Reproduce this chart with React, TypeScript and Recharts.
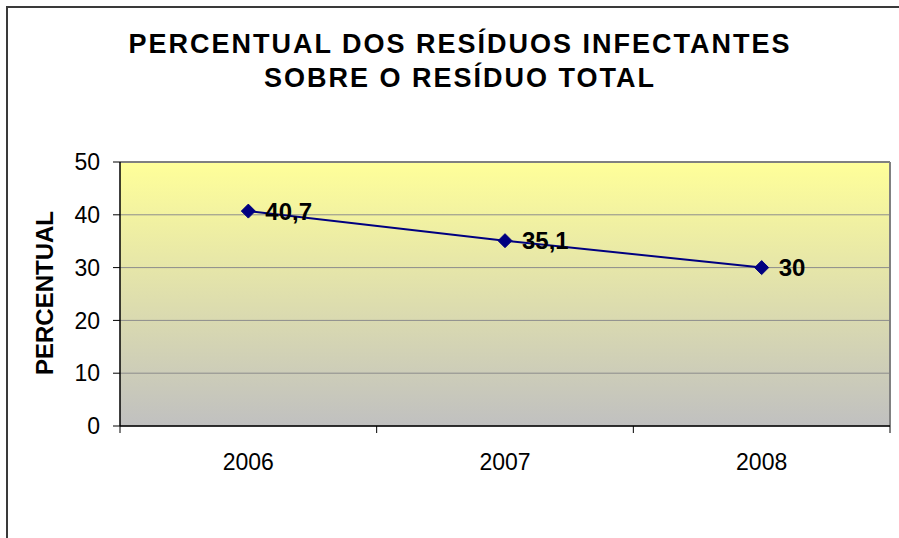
import { CartesianGrid, LabelList, Line, LineChart, ReferenceLine, XAxis, YAxis } from 'recharts';

const FONT = "Arial, 'Liberation Sans', sans-serif";

const years = ['2006', '2007', '2008'];
const percentual = [40.7, 35.1, 30];
const yTicks = [0, 10, 20, 30, 40, 50];
const titleLines = ['PERCENTUAL DOS RESÍDUOS INFECTANTES', 'SOBRE O RESÍDUO TOTAL'];

// x positions sit in the middle of each category band, boundaries get tick marks
const data = years.map((year, i) => ({ x: i + 0.5, year, value: percentual[i] }));
const xTicks = [0, 0.5, 1, 1.5, 2, 2.5, 3];

const XTick = (props: any) => {
  const { x, y, payload } = props;
  const v = payload.value as number;
  if (Number.isInteger(v)) {
    return <line x1={x} y1={y} x2={x} y2={y + 7} stroke="#000" strokeWidth={1} />;
  }
  const label = years[Math.floor(v)];
  return (
    <text x={x} y={y + 36} textAnchor="middle" dominantBaseline="central" fontSize={23} fontFamily={FONT} fill="#000">
      {label}
    </text>
  );
};

const Diamond = (props: any) => {
  const { cx, cy, index } = props;
  const s = 7;
  return (
    <polygon
      key={`d-${index}`}
      points={`${cx},${cy - s} ${cx + s},${cy} ${cx},${cy + s} ${cx - s},${cy}`}
      fill="#000080"
      stroke="#000080"
    />
  );
};

const ValueLabel = (props: any) => {
  const { x, y, value } = props;
  return (
    <text x={x + 17} y={y} dominantBaseline="central" fontSize={24} fontWeight="bold" fontFamily={FONT} fill="#000">
      {String(value).replace('.', ',')}
    </text>
  );
};

export default function App() {
  return (
    <div style={{ position: 'absolute', left: 0, top: 0, width: 899, height: 538, overflow: 'hidden', background: '#fff' }}>
      <div
        style={{
          position: 'absolute',
          left: 6,
          top: 6,
          width: 1000,
          height: 1000,
          border: '2px solid #3a3a3a',
        }}
      />
      <div
        style={{
          position: 'absolute',
          left: 0,
          top: 27,
          width: 920,
          textAlign: 'center',
          fontFamily: FONT,
          fontWeight: 'bold',
          fontSize: 27,
          letterSpacing: 2,
          lineHeight: '34px',
          color: '#000',
        }}
      >
        {titleLines.map((t) => (
          <div key={t}>{t}</div>
        ))}
      </div>
      <div style={{ position: 'absolute', left: 0, top: 0 }}>
        <LineChart width={899} height={538} data={data} margin={{ top: 162, right: 9, bottom: 72, left: 50 }}>
          <defs>
            <linearGradient id="plotBg" x1="0" y1="0" x2="0" y2="1">
              <stop offset="0%" stopColor="#FFFF99" />
              <stop offset="100%" stopColor="#C0C0C0" />
            </linearGradient>
          </defs>
          <CartesianGrid vertical={false} stroke="#8c8c8c" fill="url(#plotBg)" fillOpacity={1} />
          <XAxis
            dataKey="x"
            type="number"
            domain={[0, 3]}
            ticks={xTicks}
            interval={0}
            height={40}
            tickSize={0}
            tickMargin={0}
            tickLine={false}
            axisLine={{ stroke: '#000', strokeWidth: 1.5 }}
            tick={<XTick />}
          />
          <YAxis
            type="number"
            domain={[0, 50]}
            ticks={yTicks}
            interval={0}
            width={70}
            tickSize={7}
            tickMargin={13}
            axisLine={{ stroke: '#000', strokeWidth: 1.5 }}
            tickLine={{ stroke: '#000' }}
            tick={{ fill: '#000', fontSize: 23, fontFamily: FONT }}
            label={{
              content: () => (
                <text
                  x={44}
                  y={293}
                  transform="rotate(-90, 44, 293)"
                  textAnchor="middle"
                  dominantBaseline="central"
                  fontSize={24}
                  fontWeight="bold"
                  fontFamily={FONT}
                  fill="#000"
                >
                  PERCENTUAL
                </text>
              ),
            }}
          />
          <ReferenceLine y={50} stroke="#808080" strokeWidth={2} />
          <ReferenceLine x={3} stroke="#808080" strokeWidth={2} />
          <Line
            type="linear"
            dataKey="value"
            stroke="#000080"
            strokeWidth={2}
            dot={<Diamond />}
            activeDot={false}
            isAnimationActive={false}
          >
            <LabelList dataKey="value" content={<ValueLabel />} />
          </Line>
        </LineChart>
      </div>
    </div>
  );
}
